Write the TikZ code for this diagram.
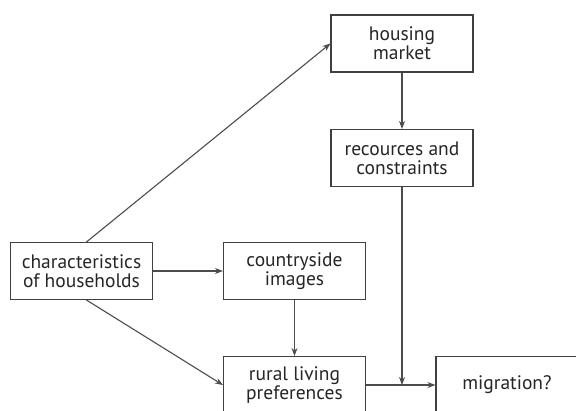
\documentclass[tikz,border=0pt]{standalone}
\usepackage{fontspec}
\setmainfont{PT Sans}
\usetikzlibrary{arrows.meta}
\begin{document}
\begin{tikzpicture}[x=1pt,y=-1pt,
  box/.style={draw=black!75,line width=1.1pt,fill=white,minimum width=142pt,minimum height=57pt,inner sep=0pt,align=center,font=\fontsize{19.5}{19}\selectfont,text=black!85},
  conn/.style={draw=black!70,line width=1.1pt,-{Stealth[length=8pt,width=6pt]}}]
\useasboundingbox (0,0) rectangle (576,410);
\clip (0,0) rectangle (576,410);
\node[box] (hm) at (402,43.5) {housing\\market};
\node[box] (rc) at (402,158) {recources and\\constraints};
\node[box] (ch) at (81.5,271) {characteristics\\of households};
\node[box] (ci) at (294.5,271) {countryside\\images};
\node[box] (rl) at (294.5,385) {rural living\\preferences};
\node[box] (mg) at (507,385) {migration?};
\coordinate (j) at (rc.south |- rl.east);
\draw[conn] (ch.north) ++(5,0) coordinate (chn) -- (hm.west);
\draw[conn] (ch.east) -- (ci.west);
\draw[conn] (ch.south) ++(5,0) coordinate (chs) -- (rl.west);
\draw[conn] (hm.south) -- (rc.north);
\draw[conn] (ci.south) -- (rl.north);
\draw[conn] (rc.south) -- (j);
\draw[conn] (rl.east) -- (mg.west);
\end{tikzpicture}
\end{document}
